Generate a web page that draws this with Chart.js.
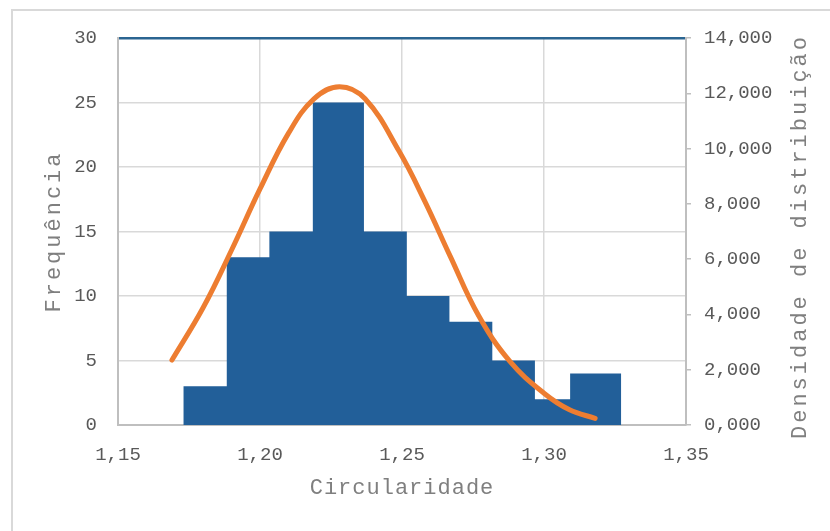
<!DOCTYPE html>
<html>
<head>
<meta charset="utf-8">
<script src="https://cdn.jsdelivr.net/npm/chart.js@4/dist/chart.umd.min.js"></script>
<style>
  html, body { margin: 0; padding: 0; background: #fff; }
  #wrap { position: relative; width: 830px; height: 531px; overflow: hidden; }
  #frame { position: absolute; left: 11px; top: 9px; width: 900px; height: 600px;
           border-left: 2px solid #d9d9d9; border-top: 2px solid #d9d9d9; }
  #chart { position: absolute; left: 0; top: 0; }
</style>
</head>
<body>
<div id="wrap">
  <div id="frame"></div>
  <canvas id="chart" width="830" height="531"></canvas>
</div>
<script>
// Histograma de circularidade + curva de densidade normal (eixo secundário)

// limites das classes (Circularidade) e frequências de cada classe
var binEdges = [1.1730, 1.1883, 1.2033, 1.2186, 1.2366, 1.2517, 1.2667, 1.2818, 1.2968, 1.3092, 1.3272];
var frequencias = [3, 13, 15, 25, 15, 10, 8, 5, 2, 4];

// curva de densidade
var curvaX = [1.169, 1.180, 1.190, 1.200, 1.210, 1.219, 1.228, 1.237, 1.249, 1.258, 1.267, 1.277, 1.288, 1.300, 1.309, 1.318];
var curvaY = [2.35, 4.25, 6.33, 8.54, 10.55, 11.80, 12.24, 11.80, 9.90, 8.10, 6.10, 3.95, 2.30, 1.15, 0.55, 0.24];

var xTicks = [1.15, 1.20, 1.25, 1.30, 1.35];

var tituloX = "Circularidade";
var tituloY = "Frequência";
var tituloY2 = "Densidade de distribuição";

var grey = "#595959";
var titleGrey = "#7f7f7f";
var gridColor = "#d9d9d9";
var axisColor = "#bfbfbf";
var mono = "'Liberation Mono', 'DejaVu Sans Mono', monospace";

// pontos do histograma em degrau (cada valor vale até o próximo limite)
var histPts = frequencias.map(function (f, i) {
  return { x: binEdges[i], y: f };
});
histPts.push({ x: binEdges[binEdges.length - 1], y: 0 });

var curvaPts = curvaX.map(function (x, i) {
  return { x: x, y: curvaY[i] };
});

function comma(v, d) {
  return Number(v).toFixed(d).replace(".", ",");
}

// títulos dos eixos com espaçamento entre letras (verticais de baixo para cima)
var titulos = {
  id: "titulos",
  afterDraw: function (chart) {
    var ctx = chart.ctx;
    var a = chart.chartArea;
    var cy = (a.top + a.bottom) / 2;
    ctx.save();
    ctx.fillStyle = titleGrey;
    ctx.textAlign = "center";
    ctx.textBaseline = "middle";
    ctx.font = "22px " + mono;
    ctx.letterSpacing = "1px";
    ctx.fillText(tituloX, (a.left + a.right) / 2, 488);
    ctx.letterSpacing = "3px";
    [[54, cy, tituloY], [800, cy + 5, tituloY2]].forEach(function (t) {
      ctx.save();
      ctx.translate(t[0], t[1]);
      ctx.rotate(-Math.PI / 2);
      ctx.fillText(t[2], 0, 0);
      ctx.restore();
    });
    ctx.restore();
  }
};

Chart.defaults.font.family = mono;

new Chart(document.getElementById("chart"), {
  data: {
    datasets: [
      {
        type: "line",
        label: "Densidade",
        data: curvaPts,
        yAxisID: "y2",
        borderColor: "#ed7d31",
        borderWidth: 5,
        borderCapStyle: "round",
        pointRadius: 0,
        tension: 0.4,
        fill: false,
        order: 0
      },
      {
        type: "line",
        label: "Frequência",
        data: histPts,
        yAxisID: "y",
        stepped: "before",
        borderColor: "#225f99",
        borderWidth: 0,
        backgroundColor: "#225f99",
        pointRadius: 0,
        fill: "origin",
        order: 1
      }
    ]
  },
  options: {
    responsive: false,
    animation: false,
    layout: { padding: { top: 38, left: 0, right: 0, bottom: 0 } },
    plugins: { legend: { display: false }, tooltip: { enabled: false } },
    scales: {
      x: {
        type: "linear",
        min: 1.15,
        max: 1.35,
        afterBuildTicks: function (s) {
          s.ticks = xTicks.map(function (v) { return { value: v }; });
        },
        afterFit: function (s) { s.height = 106; },
        grid: { color: gridColor, lineWidth: 1.5, drawTicks: false },
        border: { color: axisColor, width: 2 },
        ticks: {
          color: grey,
          font: { size: 19 },
          padding: 19,
          callback: function (v) { return comma(v, 2); }
        }
      },
      y: {
        position: "left",
        min: 0,
        max: 30,
        ticks: {
          stepSize: 5,
          color: grey,
          font: { size: 19 },
          padding: 21
        },
        afterFit: function (s) { s.width = 118; },
        grid: {
          drawTicks: false,
          color: function (c) { return c.tick && c.tick.value === 30 ? "#2b6591" : gridColor; },
          lineWidth: function (c) { return c.tick && c.tick.value === 30 ? 2.5 : 1.5; }
        },
        border: { color: axisColor, width: 2 }
      },
      y2: {
        position: "right",
        min: 0,
        max: 14,
        ticks: {
          stepSize: 2,
          color: grey,
          font: { size: 19 },
          padding: 13,
          callback: function (v) { return comma(v, 3); }
        },
        afterFit: function (s) { s.width = 144; },
        grid: { drawOnChartArea: false, drawTicks: true, tickLength: 5, color: axisColor, lineWidth: 1.5 },
        border: { color: axisColor, width: 2 }
      }
    }
  },
  plugins: [titulos]
});
</script>
</body>
</html>
